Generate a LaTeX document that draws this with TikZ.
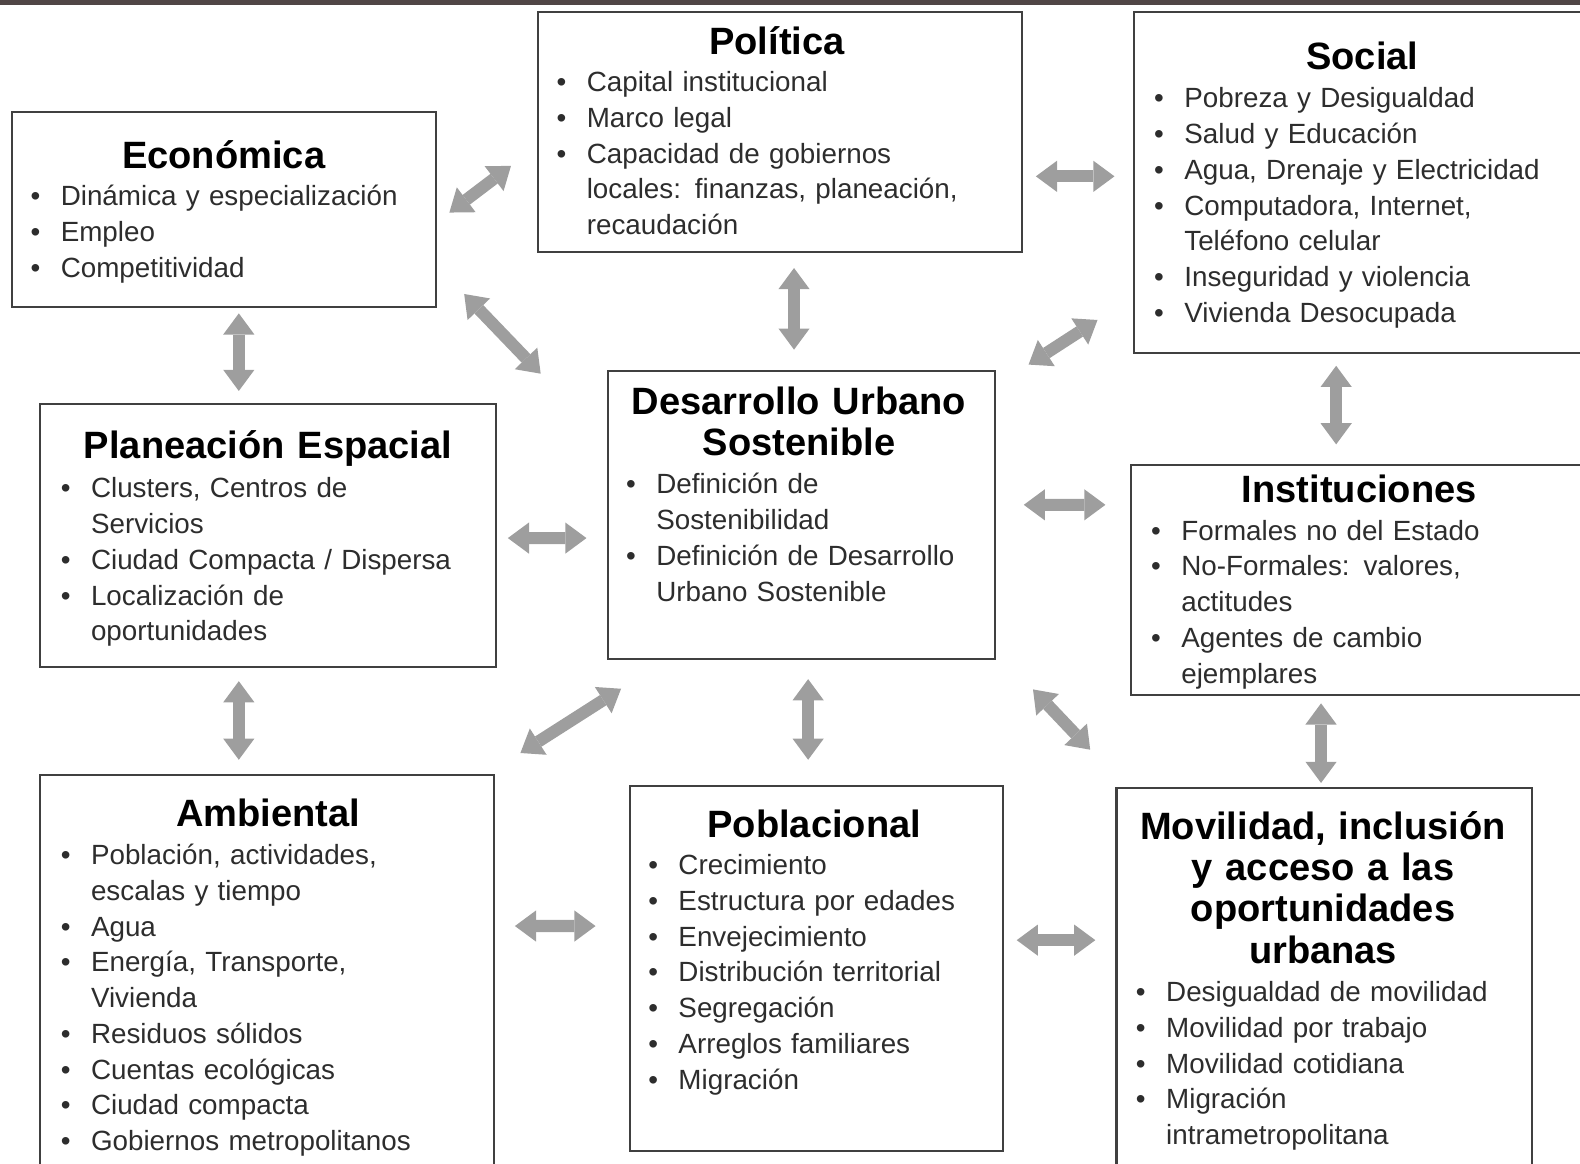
\documentclass[tikz,border=0pt]{standalone}
\usepackage{fontspec}
\setmainfont{Liberation Sans}
\usetikzlibrary{arrows.meta, fit, calc}

\definecolor{arrowgray}{RGB}{158,158,158}
\definecolor{boxline}{RGB}{64,64,64}
\definecolor{topbar}{RGB}{80,70,70}
\definecolor{bodytext}{RGB}{45,45,45}

\newcommand{\bul}[1]{\noindent\hangindent=0.6cm\hangafter=1\makebox[0.6cm][l]{\textbullet}#1\par}

\tikzset{
  box/.style={draw=boxline, line width=0.04cm, inner sep=0pt},
  boxtitle/.style={anchor=base, text width=9cm, align=center, inner sep=0pt,
    font=\fontsize{21.5}{23.3}\selectfont\bfseries},
  boxlist/.style={anchor=base west, text width=11cm, align=left, inner sep=0pt,
    text=bodytext, font=\fontsize{15.7}{20.2}\selectfont},
  biarrow/.style={draw=arrowgray, line width=0.24cm,
    {Triangle[length=0.42cm,width=0.62cm,line width=0pt]}-{Triangle[length=0.42cm,width=0.62cm,line width=0pt]}}
}

\begin{document}
\begin{tikzpicture}[x={(0.02cm,0)}, y={(0,-0.02cm)}]

\useasboundingbox (0,0) rectangle (1568,1155);
\clip (0,0) rectangle (1568,1155);
\fill[topbar] (0,0) rectangle (1568,5);

% boxes
\node[box, fit={(12,111) (433,305)}] (econ) {};
\node[box, fit={(534,12) (1014,250)}] (pol) {};
\node[box, fit={(1125,12) (1600,350)}] (social) {};
\node[box, fit={(40,401) (492,662)}] (plan) {};
\node[box, fit={(603,368) (987,654)}] (dus) {};
\node[box, fit={(1122,461) (1600,690)}] (inst) {};
\node[box, fit={(40,769) (490,1200)}] (amb) {};
\node[box, fit={(625,780) (995,1142)}] (pob) {};
\node[box, fit={(1108,782) (1520,1200)}] (mov) {};

% titles
\node[boxtitle] (econtitle) at (222,167) {Económica};
\node[boxtitle] (poltitle) at (771,54) {Política};
\node[boxtitle] (socialtitle) at (1352,69) {Social};
\node[boxtitle] (plantitle) at (266,455) {Planeación Espacial};
\node[boxtitle] (dustitle) at (793,411) {Desarrollo Urbano\\Sostenible};
\node[boxtitle] (insttitle) at (1349,499) {Instituciones};
\node[boxtitle] (ambtitle) at (266,820) {Ambiental};
\node[boxtitle] (pobtitle) at (808,831) {Poblacional};
\node[boxtitle] (movtitle) at (1313,833) {Movilidad, inclusión\\y acceso a las\\oportunidades\\urbanas};

% lists
\node[boxlist] (econlist) at (30,204) {%
\bul{Dinámica y especialización}
\bul{Empleo}
\bul{Competitividad}};
\node[boxlist] (pollist) at (552,91) {%
\bul{Capital institucional}
\bul{Marco legal}
\bul{Capacidad de gobiernos\newline locales: finanzas, planeación,\newline recaudación}};
\node[boxlist] (sociallist) at (1145,107) {%
\bul{Pobreza y Desigualdad}
\bul{Salud y Educación}
\bul{Agua, Drenaje y Electricidad}
\bul{Computadora, Internet,\newline Teléfono celular}
\bul{Inseguridad y violencia}
\bul{Vivienda Desocupada}};
\node[boxlist] (planlist) at (60,494) {%
\bul{Clusters, Centros de\newline Servicios}
\bul{Ciudad Compacta / Dispersa}
\bul{Localización de\newline oportunidades}};
\node[boxlist] (duslist) at (621,490) {%
\bul{Definición de\newline Sostenibilidad}
\bul{Definición de Desarrollo\newline Urbano Sostenible}};
\node[boxlist] (instlist) at (1142,536) {%
\bul{Formales no del Estado}
\bul{No-Formales: valores,\newline actitudes}
\bul{Agentes de cambio\newline ejemplares}};
\node[boxlist] (amblist) at (60,858) {%
\bul{Población, actividades,\newline escalas y tiempo}
\bul{Agua}
\bul{Energía, Transporte,\newline Vivienda}
\bul{Residuos sólidos}
\bul{Cuentas ecológicas}
\bul{Ciudad compacta}
\bul{Gobiernos metropolitanos}};
\node[boxlist] (poblist) at (643,868) {%
\bul{Crecimiento}
\bul{Estructura por edades}
\bul{Envejecimiento}
\bul{Distribución territorial}
\bul{Segregación}
\bul{Arreglos familiares}
\bul{Migración}};
\node[boxlist] (movlist) at (1127,994) {%
\bul{Desigualdad de movilidad}
\bul{Movilidad por trabajo}
\bul{Movilidad cotidiana}
\bul{Migración\newline intrametropolitana}};

% connectors
\draw[biarrow, shorten <=0.3cm, shorten >=0.65cm] ($(econ.north east)+(0,110)$) -- ($(pol.north west)+(0,134)$);
\draw[biarrow, shorten <=0.77cm, shorten >=1.89cm] ($(econ.north east)+(0,154)$) -- ($(dus.north west)+(0,72)$);
\draw[biarrow, shorten <=0.3cm, shorten >=0.4cm] ($(pol.south west)+(255,0)$) -- ($(dus.north west)+(186,0)$);
\draw[biarrow, shorten <=0.26cm, shorten >=0.36cm] ($(pol.north east)+(0,164)$) -- ($(social.north west)+(0,164)$);
\draw[biarrow, shorten <=0.78cm, shorten >=0.83cm] ($(dus.north east)+(0,16)$) -- ($(social.north west)+(0,284)$);
\draw[biarrow, shorten <=0.1cm, shorten >=0.24cm] ($(econ.south west)+(226,0)$) -- ($(plan.north west)+(198,0)$);
\draw[biarrow, shorten <=0.24cm, shorten >=0.38cm] ($(social.south west)+(202,0)$) -- ($(inst.north west)+(205,0)$);
\draw[biarrow, shorten <=0.22cm, shorten >=0.4cm] ($(plan.north east)+(0,134)$) -- ($(dus.north west)+(0,167)$);
\draw[biarrow, shorten <=0.56cm, shorten >=0.48cm] ($(dus.north east)+(0,134)$) -- ($(inst.north west)+(0,41)$);
\draw[biarrow, shorten <=0.26cm, shorten >=0.28cm] ($(plan.south west)+(198,0)$) -- ($(amb.north west)+(198,0)$);
\draw[biarrow, shorten <=1.06cm, shorten >=0.77cm] ($(dus.south west)+(59,0)$) -- ($(amb.north west)+(445,0)$);
\draw[biarrow, shorten <=0.38cm, shorten >=0.5cm] ($(dus.south west)+(200,0)$) -- ($(pob.north west)+(178,0)$);
\draw[biarrow, shorten <=1.08cm, shorten >=1.02cm] ($(dus.south east)+(0,-10)$) -- ($(mov.north west)+(10,0)$);
\draw[biarrow, shorten <=0.14cm, shorten >=0.08cm] ($(inst.south west)+(190,0)$) -- ($(mov.north west)+(204,0)$);
\draw[biarrow, shorten <=0.4cm, shorten >=0.66cm] ($(amb.north east)+(0,151)$) -- ($(pob.north west)+(0,140)$);
\draw[biarrow, shorten <=0.26cm, shorten >=0.4cm] ($(pob.north east)+(0,154)$) -- ($(mov.north west)+(0,152)$);

\end{tikzpicture}
\end{document}
